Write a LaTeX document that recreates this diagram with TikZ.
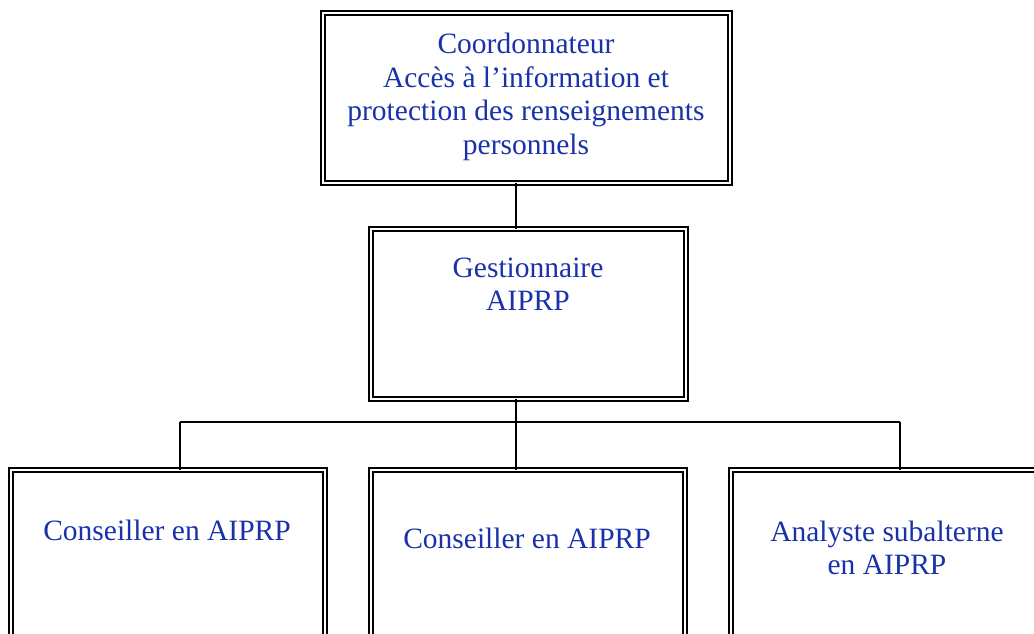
\documentclass[tikz,border=0pt]{standalone}
\usepackage{fontspec}
\setmainfont{Liberation Serif}
\definecolor{txtblue}{RGB}{25,50,170}
\begin{document}
\begin{tikzpicture}[x=1pt,y=-1pt,
  box/.style={draw, line width=2.3pt, double=white, double distance=1.3pt, inner sep=0pt, outer sep=0pt},
  conn/.style={draw, line width=2.3pt},
  lbl/.style={text=txtblue, font=\fontsize{29.5}{33.5}\selectfont, align=center, inner sep=0pt}]
\useasboundingbox (0,0) rectangle (1034,634);
\fill[white] (0,0) rectangle (1034,634);
% boxes
\node[box, minimum width=407pt, minimum height=170pt] (top) at (526.5,98) {};
\node[box, minimum width=315pt, minimum height=170pt] (mid) at (528.5,314) {};
\node[box, minimum width=314pt, minimum height=187pt] (bl) at (168,563.5) {};
\node[box, minimum width=314pt, minimum height=187pt] (bm) at (528,563.5) {};
\node[box, minimum width=314pt, minimum height=187pt] (br) at (888,563.5) {};
% labels
\node[lbl] (ttop) at (526,97) {Coordonnateur\\Accès à l’information et\\protection des renseignements\\personnels};
\node[lbl] (tmid) at (528,284) {Gestionnaire\\AIPRP};
\node[lbl] (tbl) at (167,530) {Conseiller en AIPRP};
\node[lbl] (tbm) at (527,538) {Conseiller en AIPRP};
\node[lbl] (tbr) at (887,548) {Analyste subalterne\\en AIPRP};
% connectors
\coordinate (jc) at (516,422);
\coordinate (jl) at (180,422);
\coordinate (jr) at (900,422);
\draw[conn] (top.south -| jc) -- (mid.north -| jc);
\draw[conn] (mid.south -| jc) -- (bm.north -| jc);
\draw[conn] (jl) -- (jr);
\draw[conn] (jl) -- (bl.north -| jl);
\draw[conn] (jr) -- (br.north -| jr);
\end{tikzpicture}
\end{document}
